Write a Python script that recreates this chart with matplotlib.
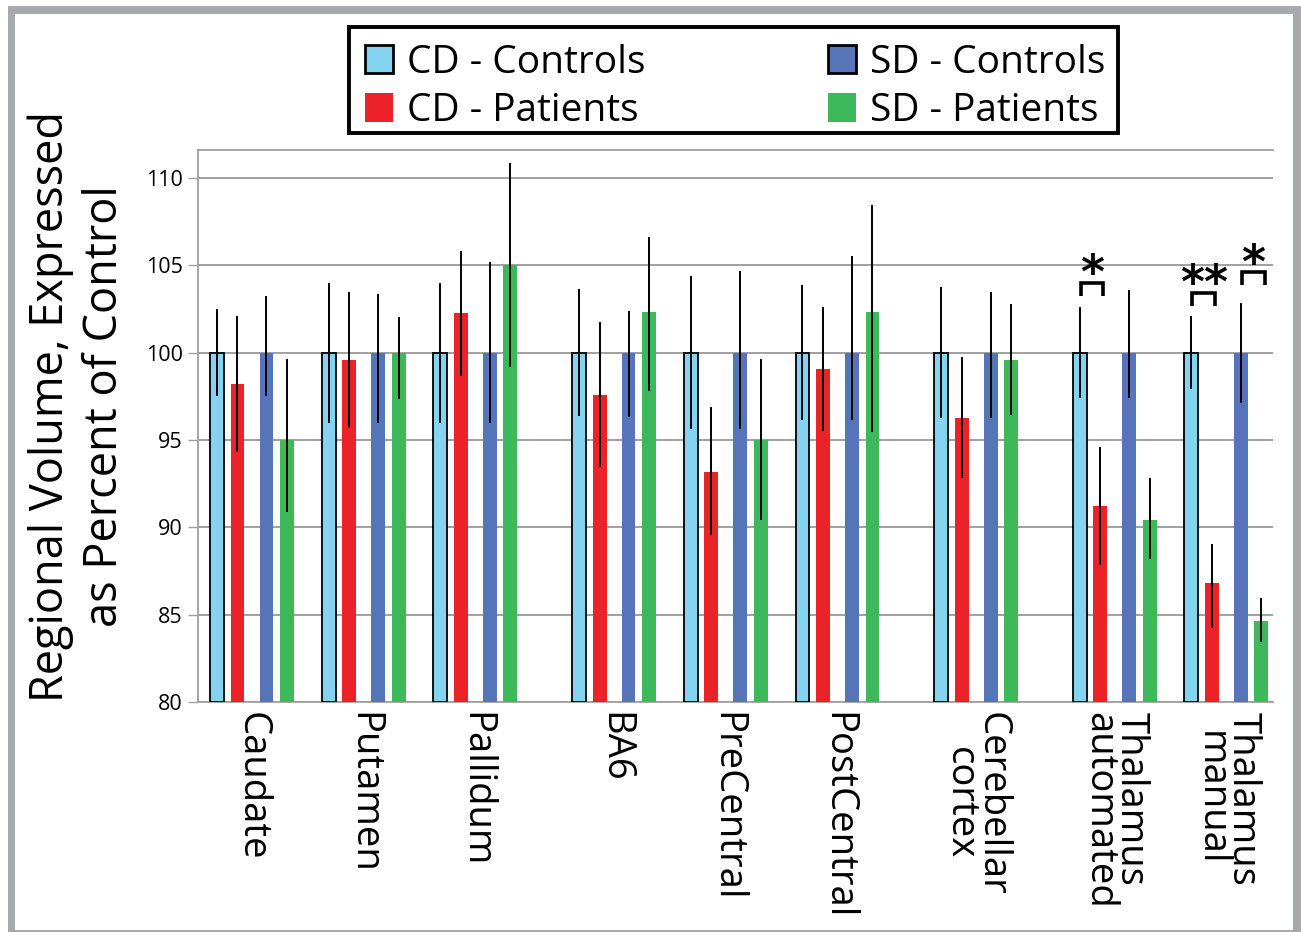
import matplotlib
matplotlib.use("Agg")
import matplotlib.pyplot as plt
from matplotlib.patches import Patch, Rectangle
import numpy as np

plt.rcParams['font.family'] = ['Open Sans', 'DejaVu Sans']

# ---------------- data ----------------
regions = ["Caudate", "Putamen", "Pallidum", "BA6", "PreCentral", "PostCentral",
           "Cerebellar\ncortex", "Thalamus\nautomated", "Thalamus\nmanual"]
label_align = ["center"] * 7 + ["left", "center"]
series_names = ["CD - Controls", "CD - Patients", "SD - Controls", "SD - Patients"]

cd_controls = [100, 100, 100, 100, 100, 100, 100, 100, 100]
cd_controls_err_lo = [2.5, 4.0, 4.0, 3.65, 4.4, 3.87, 3.77, 2.6, 2.1]
cd_controls_err_hi = [2.5, 4.0, 4.0, 3.65, 4.4, 3.87, 3.77, 2.6, 2.1]

cd_patients = [98.2, 99.55, 102.27, 97.59, 93.18, 99.06, 96.27, 91.22, 86.8]
cd_patients_err_lo = [3.9, 3.88, 3.58, 4.14, 3.63, 3.53, 3.47, 3.36, 2.56]
cd_patients_err_hi = [3.92, 3.92, 3.53, 4.14, 3.68, 3.53, 3.49, 3.37, 2.26]

sd_controls = [100, 100, 100, 100, 100, 100, 100, 100, 100]
sd_controls_err_lo = [2.5, 4.04, 4.04, 3.67, 4.39, 3.88, 3.76, 2.61, 2.86]
sd_controls_err_hi = [3.27, 3.35, 5.2, 2.37, 4.67, 5.51, 3.49, 3.61, 2.86]

sd_patients = [95.0, 100.0, 105.0, 102.35, 95.0, 102.31, 99.59, 90.41, 84.61]
sd_patients_err_lo = [4.12, 2.63, 5.82, 4.57, 4.59, 6.88, 3.18, 2.23, 1.2]
sd_patients_err_hi = [4.65, 2.06, 5.88, 4.28, 4.65, 6.16, 3.21, 2.43, 1.35]

# significance marks: (region index, series a, series b, bracket height, label)
sig_region = [7, 8, 8]
sig_series_a = [0, 0, 2]
sig_series_b = [1, 1, 3]
sig_height = [104.0, 103.4, 104.6]
sig_label = ["*", "**", "*"]

y_ticks = [80, 85, 90, 95, 100, 105, 110]

# ---------------- style ----------------
colors = ["#84D4F1", "#EC2229", "#5675B9", "#3DB85B"]
edgecolors = ["black", "none", "none", "none"]
legend_edges = ["black", "none", "black", "none"]

gap_after = [2, 5, 6]  # extra space after these groups
gap_size = 0.24
offsets = [0.0, 0.1835, 0.443, 0.6265]
bar_w = 0.125

W, H = 1301, 932
fig = plt.figure(figsize=(W / 100, H / 100), dpi=100)
fig.patch.set_facecolor("white")

def px_rect(x0, y0, x1, y1, **kw):
    return Rectangle((x0 / W, 1 - y1 / H), (x1 - x0) / W, (y1 - y0) / H,
                     transform=fig.transFigure, **kw)

# outer gray frame (top, left, right thick; bottom thin)
frame_col = "#A7A9AC"
for (x0, y0, x1, y1) in [(8, 6, 1301, 14), (8, 6, 15, 932), (1293, 6, 1301, 932),
                         (8, 930, 1301, 932)]:
    fig.add_artist(px_rect(x0, y0, x1, y1, facecolor=frame_col, edgecolor="none", zorder=0))

ax = fig.add_axes([198 / W, 1 - 702 / H, (1273 - 198) / W, (702 - 150) / H])

n = len(regions)
pos = []
extra = 0.0
for i in range(n):
    pos.append(i + extra)
    if i in gap_after:
        extra += gap_size
pos = np.array(pos)

all_vals = [cd_controls, cd_patients, sd_controls, sd_patients]
all_lo = [cd_controls_err_lo, cd_patients_err_lo, sd_controls_err_lo, sd_patients_err_lo]
all_hi = [cd_controls_err_hi, cd_patients_err_hi, sd_controls_err_hi, sd_patients_err_hi]

base = 80
for s in range(4):
    x = pos + offsets[s]
    vals = np.array(all_vals[s])
    ax.bar(x, vals - base, bottom=base, width=bar_w, color=colors[s],
           edgecolor=edgecolors[s], linewidth=1.3 if s == 0 else 0, zorder=3)
    ax.errorbar(x, vals, yerr=[all_lo[s], all_hi[s]], fmt="none", ecolor="black",
                elinewidth=1.4, capsize=0, zorder=4)

# significance brackets
leg = 0.75
for r, a, b, h, lab in zip(sig_region, sig_series_a, sig_series_b, sig_height, sig_label):
    xa = pos[r] + offsets[a] + 0.01
    xb = pos[r] + offsets[b] + 0.03
    ax.plot([xa, xa, xb, xb], [h - leg, h, h, h - leg], color="black", lw=2.6,
            solid_capstyle="butt", solid_joinstyle="miter", zorder=5)
    ax.text((xa + xb) / 2, h - 0.3, lab, ha="center", va="baseline",
            fontsize=33, fontweight="bold", family="DejaVu Sans", zorder=5)

ax.set_ylim(80, 111.6)
ax.set_xlim(-0.170, 9.451)
ax.set_yticks(y_ticks)
ax.set_yticklabels([str(t) for t in y_ticks], fontsize=15.5)
ax.yaxis.grid(True, color="#A0A0A0", linewidth=1.4, zorder=0)
ax.set_axisbelow(True)
ax.tick_params(axis="y", length=7, width=1, color="#A0A0A0", pad=4)
ax.tick_params(axis="x", length=0, pad=7)

centers = pos + (offsets[0] + offsets[-1]) / 2
ax.set_xticks(centers)
ax.set_xticklabels(regions, rotation=270, fontsize=27.5, va="top", ha="center",
                   linespacing=0.78)
for t, al in zip(ax.get_xticklabels(), label_align):
    t.set_multialignment(al)

for side in ["left", "bottom", "top"]:
    ax.spines[side].set_color("#A0A0A0")
    ax.spines[side].set_linewidth(1.3)
ax.spines["right"].set_visible(False)

fig.text(78 / W, 1 - 406 / H, "Regional Volume, Expressed\nas Percent of Control",
         rotation=90, ha="center", va="center", fontsize=32.5, multialignment="center",
         linespacing=1.22)

# legend: frame drawn separately for exact placement
fig.add_artist(px_rect(349, 27, 1118, 133, facecolor="white", edgecolor="black",
                       linewidth=2.8, zorder=1))
handles = [Patch(facecolor=colors[i], edgecolor=legend_edges[i], linewidth=2.0,
                 label=series_names[i]) for i in range(4)]
lg = fig.legend(handles=handles, ncol=2, loc="upper left",
                bbox_to_anchor=(349 / W, 1 - 28 / H), fontsize=28,
                frameon=False, handlelength=0.72, handleheight=0.75,
                handletextpad=0.36, columnspacing=4.7, labelspacing=0.27,
                borderpad=0.4, borderaxespad=0)
lg.set_zorder(2)

fig.savefig("out.png", dpi=100)
